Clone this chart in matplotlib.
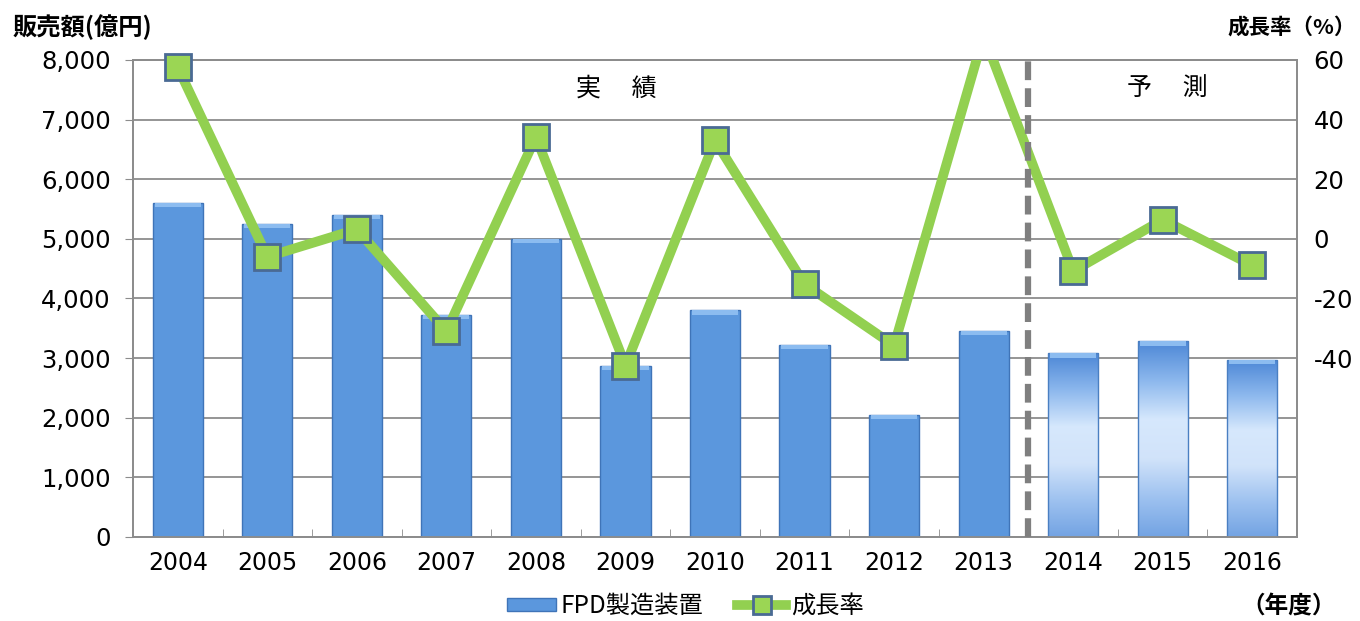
import numpy as np
import matplotlib
matplotlib.use('Agg')
import matplotlib.pyplot as plt
from matplotlib.patches import Patch
from matplotlib.lines import Line2D

plt.rcParams['font.family'] = ['Noto Sans CJK JP', 'DejaVu Sans']
plt.rcParams['axes.unicode_minus'] = False

years = ['2004', '2005', '2006', '2007', '2008', '2009', '2010',
         '2011', '2012', '2013', '2014', '2015', '2016']
sales = [5600, 5250, 5400, 3730, 5000, 2870, 3800, 3220, 2050, 3450, 3080, 3280, 2970]
growth = [57.5, -6.0, 3.2, -31.0, 34.2, -42.5, 33.0, -15.2, -35.8, 68.3, -10.8, 6.4, -8.9]
n_actual = 10  # 2004-2013 actual, rest forecast

fig = plt.figure(figsize=(13.6, 6.21), dpi=100)
ax = fig.add_axes([0.0978, 0.1353, 0.8559, 0.7681])
ax2 = ax.twinx()

x = np.arange(len(years))
bw = 0.56
grid_c = '#8c8c8c'
num_font = 'DejaVu Sans'

# actual bars
ax.bar(x[:n_actual], sales[:n_actual], width=bw, color='#5b97dd',
       edgecolor='#3f74b8', linewidth=1.0, zorder=3)
for xi, v in zip(x[:n_actual], sales[:n_actual]):
    ax.bar(xi, 70, bottom=v - 70, width=bw * 0.92, color='#8cbcf0',
           linewidth=0, zorder=4)

# forecast bars with vertical gradient
grad = np.array([
    [0.30, 0.53, 0.84],
    [0.55, 0.72, 0.93],
    [0.84, 0.91, 0.99],
    [0.82, 0.89, 0.98],
    [0.62, 0.76, 0.94],
    [0.45, 0.64, 0.89],
])
t = np.linspace(0, 1, 200)
pos = np.linspace(0, 1, len(grad))
img = np.stack([np.interp(t, pos, grad[::-1, k]) for k in range(3)], axis=-1)[:, None, :]
for xi, v in zip(x[n_actual:], sales[n_actual:]):
    b = ax.bar(xi, v, width=bw, color='none', edgecolor='#4a7fc2',
               linewidth=1.0, zorder=4)[0]
    im = ax.imshow(img, extent=[xi - bw / 2, xi + bw / 2, 0, v], origin='lower',
                   aspect='auto', zorder=3, interpolation='bilinear')
    im.set_clip_path(b)
    ax.bar(xi, 70, bottom=v - 70, width=bw * 0.92, color='#8cbcf0',
           linewidth=0, zorder=4)

ax.set_xlim(-0.5, len(years) - 0.5)
ax.set_ylim(0, 8000)
ax.set_yticks(np.arange(0, 8001, 1000))
ax.set_yticklabels([f'{v:,}' for v in range(0, 8001, 1000)], fontfamily=num_font)
ax.yaxis.grid(True, color=grid_c, linewidth=1.3, zorder=0)
ax.set_axisbelow(True)
ax.set_xticks(x)
ax.set_xticklabels(years, fontfamily=num_font)
ax.set_xticks(np.arange(0.5, len(years) - 1, 1), minor=True)
ax.tick_params(axis='x', which='major', length=0, labelsize=17, pad=10)
ax.tick_params(axis='x', which='minor', length=6, direction='in', color=grid_c)
ax.tick_params(axis='y', length=6, color=grid_c, labelsize=17.5, pad=10)
for s in ax.spines.values():
    s.set_color(grid_c)
    s.set_linewidth(1.3)

# growth rate line (clipped), markers drawn unclipped where in range
ax2.plot(x, growth, color='#92d050', linewidth=7, zorder=3)
g = np.array(growth)
ok = g <= 60
ax2.plot(x[ok], g[ok], linestyle='none', zorder=4, clip_on=False,
         marker='s', markersize=19, markerfacecolor='#9bd654',
         markeredgecolor='#4a6a94', markeredgewidth=2)
ax2.set_ylim(-100, 60)
ax2.set_yticks(np.arange(-40, 61, 20))
ax2.set_yticklabels([str(v) for v in range(-40, 61, 20)], fontfamily=num_font)
ax2.tick_params(axis='y', length=0, labelsize=17.5, pad=12)
for s in ax2.spines.values():
    s.set_color(grid_c)
    s.set_linewidth(1.3)

# divider between actual and forecast
ax2.axvline(n_actual - 0.5, color='#7f7f7f', linestyle=(0, (3, 1.3)),
            linewidth=4.5, zorder=5)

ax.text(4.9, 7520, '実\u3000 績', ha='center', va='center', fontsize=18)
ax.text(11.05, 7520, '予\u3000 測', ha='center', va='center', fontsize=18)

fig.text(0.009, 0.957, '販売額(億円)', ha='left', va='center', fontsize=17.5,
         fontweight='bold')
fig.text(0.997, 0.957, '成長率（%）', ha='right', va='center', fontsize=15.5,
         fontweight='bold')
fig.text(0.982, 0.024, '（年度）', ha='right', va='center', fontsize=17,
         fontweight='bold')

handles = [Patch(facecolor='#5b97dd', edgecolor='#3f74b8'),
           Line2D([0], [0], color='#92d050', linewidth=7, marker='s',
                  markersize=13, markerfacecolor='#9bd654',
                  markeredgecolor='#4a6a94', markeredgewidth=2)]
fig.legend(handles, ['FPD製造装置', '成長率'], loc='center',
           bbox_to_anchor=(0.504, 0.024), ncol=2, frameon=False, fontsize=17.5,
           handlelength=2.0, handleheight=0.5, handletextpad=0.2,
           columnspacing=1.4)

fig.savefig('out.png', dpi=100)
